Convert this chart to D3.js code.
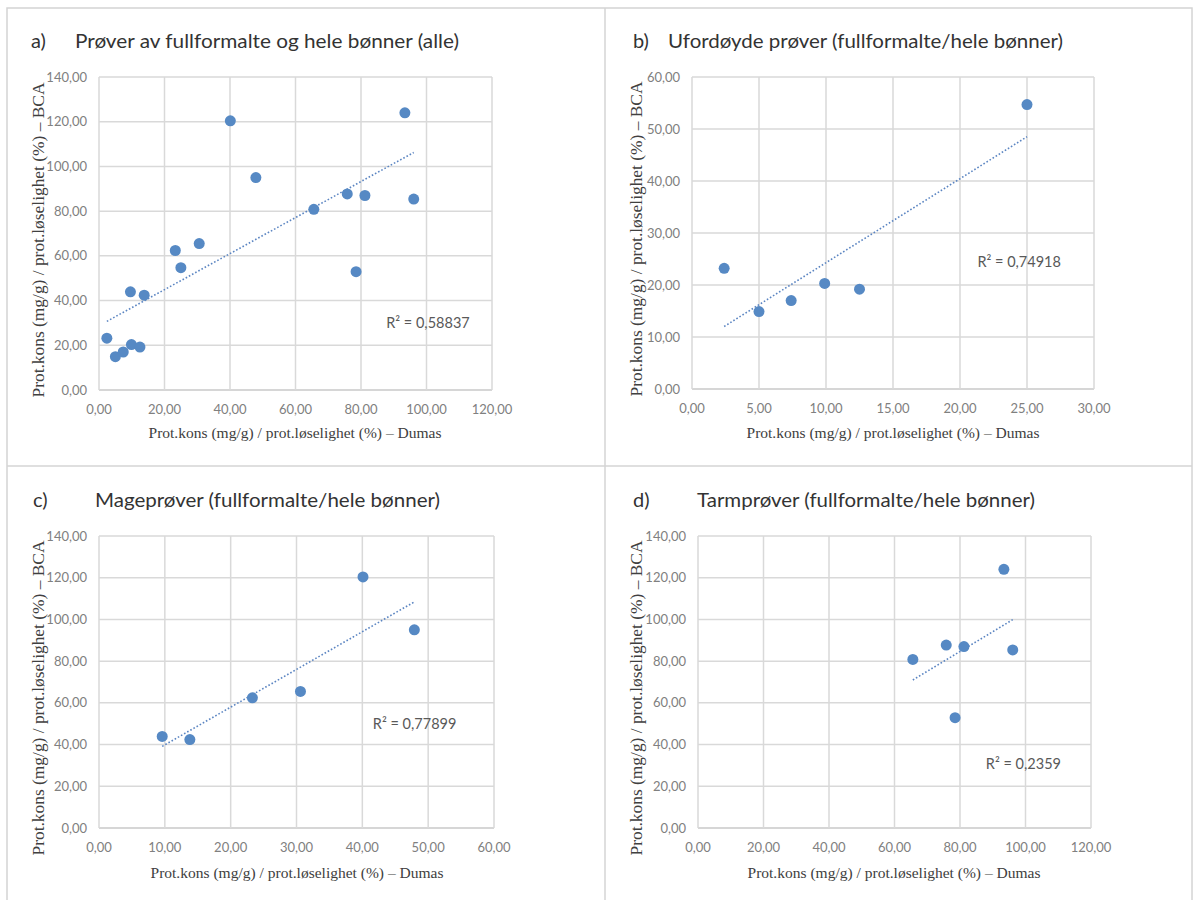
<!DOCTYPE html>
<html>
<head>
<meta charset="utf-8">
<script src="https://cdn.jsdelivr.net/npm/d3@7"></script>
<style>
  body { margin: 0; background: #fff; }
  .tick-label { font-family: Lato, "Open Sans", sans-serif; font-size: 13px; fill: #808080; }
  .axis-title { font-family: "Liberation Serif", "DejaVu Serif", serif; fill: #404040; }
  .panel-title { font-family: Lato, "Open Sans", sans-serif; font-size: 20px; font-weight: 400; fill: #333333; }
  .r2 { font-family: Lato, "Open Sans", sans-serif; font-size: 14.5px; fill: #595959; }
</style>
</head>
<body>
<svg width="1198" height="900"></svg>
<script>
// Dumas (x) vs BCA (y)
var undigested = [[2.4, 23.2], [5.0, 14.9], [7.4, 17.0], [9.9, 20.3], [12.5, 19.2], [25.0, 54.7]];
var stomach = [[9.6, 43.9], [13.8, 42.4], [23.3, 62.4], [30.6, 65.5], [40.1, 120.4], [47.9, 95.0]];
var intestine = [[65.6, 80.8], [75.8, 87.7], [81.2, 87.0], [78.5, 52.9], [93.4, 124.0], [96.1, 85.4]];
var allSamples = undigested.concat(stomach, intestine);

var panelLabels = ["a)", "b)", "c)", "d)"];
var panelTitles = [
    "Prøver av fullformalte og hele bønner (alle)",
    "Ufordøyde prøver (fullformalte/hele bønner)",
    "Mageprøver (fullformalte/hele bønner)",
    "Tarmprøver (fullformalte/hele bønner)"
];
var r2Labels = ["R² = 0,58837", "R² = 0,74918", "R² = 0,77899", "R² = 0,2359"];
var xTicks = [d3.range(0, 121, 20), d3.range(0, 31, 5), d3.range(0, 61, 10), d3.range(0, 121, 20)];
var yTicks = [d3.range(0, 141, 20), d3.range(0, 61, 10), d3.range(0, 141, 20), d3.range(0, 141, 20)];
var xTitle = "Prot.kons (mg/g) / prot.løselighet (%) – Dumas";
var yTitle = "Prot.kons (mg/g) / prot.løselighet (%) – BCA";

var svg = d3.select("svg");
var dotColor = "#5689c4",
    gridColor = "#d9d9d9";

var fmt = function(v) { return d3.format(".2f")(v).replace(".", ","); };

// layout of each panel (plot box in page pixels)
var panels = [
    { data: allSamples, left: 99, right: 492, top: 77, bottom: 390, r2At: [87.7, 30],
      labelX: 31, titleX: 75, titleW: 384, titleY: 48, xTitleX: 295, xTitleY: 438, yTitleX: 44, yTitleY: 240 },
    { data: undigested, left: 692, right: 1094, top: 77, bottom: 389, r2At: [21.3, 24.5],
      labelX: 633, titleX: 668, titleW: 395, titleY: 48, xTitleX: 893, xTitleY: 438, yTitleX: 642, yTitleY: 239 },
    { data: stomach, left: 99, right: 494, top: 536, bottom: 828, r2At: [41.6, 50.1],
      labelX: 33, titleX: 95, titleW: 345, titleY: 507, xTitleX: 297, xTitleY: 878, yTitleX: 44, yTitleY: 698 },
    { data: intestine, left: 698, right: 1091, top: 536, bottom: 828, r2At: [87.9, 30.9],
      labelX: 633, titleX: 697, titleW: 338, titleY: 507, xTitleX: 894, xTitleY: 878, yTitleX: 642, yTitleY: 698 }
];

// frame and dividers
var frame = svg.append("g").attr("stroke", "#d4d4d4").attr("stroke-width", 1.5).attr("fill", "none");
frame.append("rect").attr("x", 7).attr("y", 8).attr("width", 1185).attr("height", 900);
frame.append("line").attr("x1", 605).attr("x2", 605).attr("y1", 8).attr("y2", 900);
frame.append("line").attr("x1", 7).attr("x2", 1192).attr("y1", 466).attr("y2", 466);

function linReg(pts) {
    var mx = d3.mean(pts, function(d) { return d[0]; }),
        my = d3.mean(pts, function(d) { return d[1]; });
    var sxy = d3.sum(pts, function(d) { return (d[0] - mx) * (d[1] - my); }),
        sxx = d3.sum(pts, function(d) { return (d[0] - mx) * (d[0] - mx); });
    var b = sxy / sxx;
    return { slope: b, intercept: my - b * mx };
}

panels.forEach(function(p, i) {
    var xt = xTicks[i], yt = yTicks[i];
    var x = d3.scaleLinear().domain([0, xt[xt.length - 1]]).range([p.left, p.right]),
        y = d3.scaleLinear().domain([0, yt[yt.length - 1]]).range([p.bottom, p.top]);

    var g = svg.append("g");

    // gridlines
    g.append("g").selectAll("line").data(yt).enter().append("line")
        .attr("x1", p.left).attr("x2", p.right)
        .attr("y1", function(d) { return y(d); }).attr("y2", function(d) { return y(d); })
        .attr("stroke", function(d) { return d === 0 ? "#c8c8c8" : gridColor; })
        .attr("stroke-width", 1.5);
    g.append("g").selectAll("line").data(xt).enter().append("line")
        .attr("y1", p.top).attr("y2", p.bottom)
        .attr("x1", function(d) { return x(d); }).attr("x2", function(d) { return x(d); })
        .attr("stroke", gridColor)
        .attr("stroke-width", 1.5);

    // tick labels
    g.append("g").selectAll("text").data(xt).enter().append("text")
        .attr("class", "tick-label")
        .attr("x", function(d) { return x(d); })
        .attr("y", p.bottom + 24)
        .attr("text-anchor", "middle")
        .text(fmt);
    g.append("g").selectAll("text").data(yt).enter().append("text")
        .attr("class", "tick-label")
        .attr("x", p.left - 12)
        .attr("y", function(d) { return y(d) + 4.5; })
        .attr("text-anchor", "end")
        .text(fmt);

    // trendline (least squares over the panel's points)
    var fit = linReg(p.data);
    var ext = d3.extent(p.data, function(d) { return d[0]; });
    var line = d3.line()
        .x(function(d) { return x(d); })
        .y(function(d) { return y(fit.intercept + fit.slope * d); });
    g.append("path")
        .attr("d", line(ext))
        .attr("fill", "none")
        .attr("stroke", "#5b85c2")
        .attr("stroke-width", 1.6)
        .attr("stroke-dasharray", "1.6,2");

    // points
    g.append("g").selectAll("circle").data(p.data).enter().append("circle")
        .attr("cx", function(d) { return x(d[0]); })
        .attr("cy", function(d) { return y(d[1]); })
        .attr("r", 5.5)
        .attr("fill", dotColor);

    // R² label
    g.append("text")
        .attr("class", "r2")
        .attr("x", x(p.r2At[0]))
        .attr("y", y(p.r2At[1]) + 5)
        .text(r2Labels[i]);

    // titles
    g.append("text").attr("class", "panel-title")
        .attr("x", p.labelX).attr("y", p.titleY)
        .text(panelLabels[i]);
    g.append("text").attr("class", "panel-title")
        .attr("x", p.titleX).attr("y", p.titleY)
        .attr("textLength", p.titleW).attr("lengthAdjust", "spacingAndGlyphs")
        .text(panelTitles[i]);

    g.append("text").attr("class", "axis-title")
        .attr("x", p.xTitleX).attr("y", p.xTitleY)
        .attr("text-anchor", "middle")
        .style("font-size", "15px")
        .attr("textLength", 293).attr("lengthAdjust", "spacingAndGlyphs")
        .text(xTitle);
    g.append("text").attr("class", "axis-title")
        .attr("transform", "translate(" + p.yTitleX + "," + p.yTitleY + ") rotate(-90)")
        .attr("text-anchor", "middle")
        .style("font-size", "16px")
        .attr("textLength", 315).attr("lengthAdjust", "spacingAndGlyphs")
        .text(yTitle);
});
</script>
</body>
</html>
